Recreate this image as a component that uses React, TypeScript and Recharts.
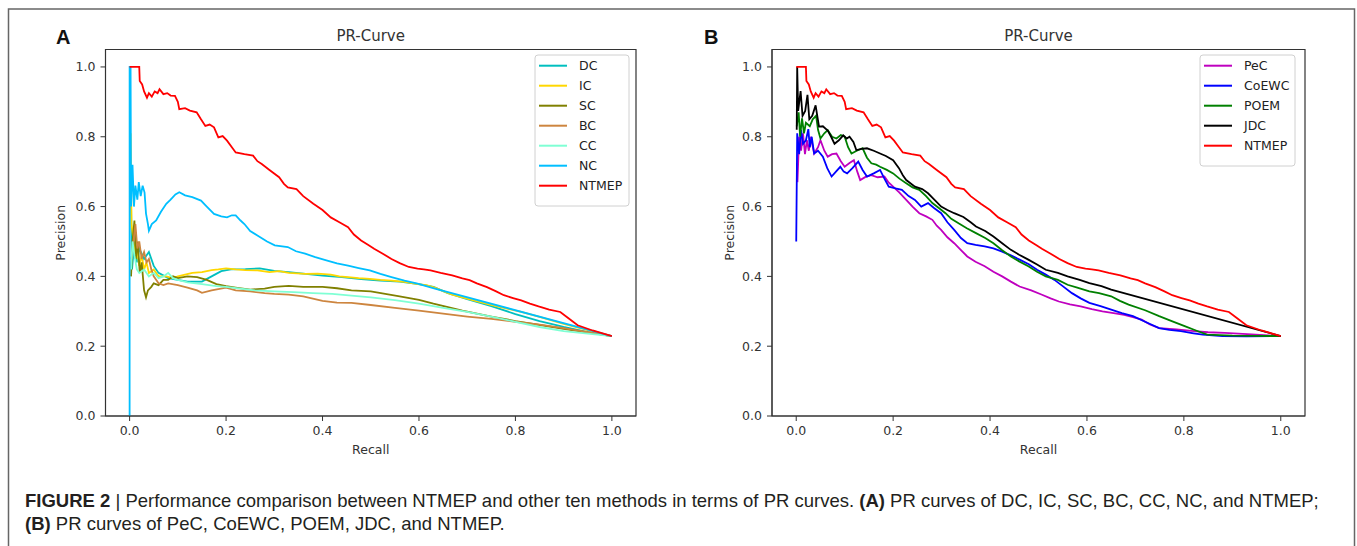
import { LineChart, Line, XAxis, YAxis, ReferenceArea } from 'recharts';

type Pt = [number, number];

const recallTicks = [0, 0.2, 0.4, 0.6, 0.8, 1.0];
const precisionTicks = [0, 0.2, 0.4, 0.6, 0.8, 1.0];

// [recall, precision]
const NTMEP: Pt[] = [
  [0, 1.0], [0.02, 1.0], [0.021, 0.96], [0.026, 0.95], [0.03, 0.93], [0.036, 0.912], [0.04, 0.925],
  [0.046, 0.915], [0.052, 0.93], [0.058, 0.925], [0.062, 0.936], [0.07, 0.922], [0.078, 0.925],
  [0.085, 0.918], [0.094, 0.917], [0.1, 0.9], [0.103, 0.879], [0.115, 0.882], [0.125, 0.875],
  [0.139, 0.87], [0.148, 0.85], [0.157, 0.831], [0.166, 0.835], [0.175, 0.827], [0.184, 0.798],
  [0.193, 0.802], [0.202, 0.789], [0.212, 0.77], [0.22, 0.755], [0.238, 0.75], [0.256, 0.746],
  [0.265, 0.73], [0.274, 0.722], [0.29, 0.705], [0.31, 0.684], [0.32, 0.665], [0.328, 0.655],
  [0.346, 0.65], [0.36, 0.63], [0.381, 0.608], [0.4, 0.59], [0.417, 0.569], [0.435, 0.555],
  [0.453, 0.541], [0.465, 0.52], [0.48, 0.503], [0.495, 0.49], [0.507, 0.479], [0.525, 0.465],
  [0.543, 0.45], [0.56, 0.438], [0.579, 0.427], [0.597, 0.422], [0.61, 0.42], [0.624, 0.417],
  [0.645, 0.41], [0.669, 0.403], [0.69, 0.394], [0.705, 0.389], [0.72, 0.38], [0.741, 0.369],
  [0.76, 0.357], [0.776, 0.346], [0.795, 0.338], [0.812, 0.331], [0.83, 0.322], [0.848, 0.314],
  [0.87, 0.305], [0.893, 0.298], [0.91, 0.28], [0.929, 0.26], [0.96, 0.245], [1.0, 0.229],
];

const NC: Pt[] = [
  [0, 0], [0, 1.0], [0.002, 1.0], [0.003, 0.6], [0.006, 0.72], [0.009, 0.6], [0.012, 0.66],
  [0.016, 0.62], [0.019, 0.67], [0.023, 0.63], [0.027, 0.66], [0.031, 0.64], [0.034, 0.58],
  [0.038, 0.55], [0.04, 0.531], [0.046, 0.55], [0.055, 0.56], [0.065, 0.585], [0.076, 0.608],
  [0.085, 0.62], [0.095, 0.635], [0.103, 0.641], [0.115, 0.632], [0.13, 0.627], [0.148, 0.617],
  [0.16, 0.6], [0.175, 0.579], [0.19, 0.572], [0.202, 0.569], [0.212, 0.575], [0.22, 0.575],
  [0.23, 0.56], [0.238, 0.55], [0.25, 0.53], [0.265, 0.517], [0.285, 0.5], [0.301, 0.489],
  [0.328, 0.484], [0.345, 0.472], [0.364, 0.465], [0.385, 0.455], [0.408, 0.446], [0.43, 0.437],
  [0.453, 0.431], [0.475, 0.424], [0.498, 0.417], [0.52, 0.407], [0.543, 0.398], [0.57, 0.388],
  [0.597, 0.379], [0.615, 0.372], [0.633, 0.365], [1.0, 0.229],
];

const IC: Pt[] = [
  [0.002, 0.81], [0.004, 0.55], [0.008, 0.5], [0.012, 0.45], [0.016, 0.47], [0.02, 0.43],
  [0.025, 0.46], [0.03, 0.42], [0.035, 0.44], [0.04, 0.41], [0.05, 0.42], [0.06, 0.4], [0.076, 0.4],
  [0.09, 0.395], [0.1, 0.4], [0.115, 0.405], [0.13, 0.41], [0.15, 0.412], [0.17, 0.418], [0.184, 0.42],
  [0.2, 0.423], [0.22, 0.42], [0.24, 0.418], [0.265, 0.417], [0.29, 0.412], [0.31, 0.415], [0.33, 0.41],
  [0.364, 0.407], [0.39, 0.408], [0.417, 0.405], [0.435, 0.4], [0.453, 0.398], [0.475, 0.395],
  [0.498, 0.393], [0.52, 0.39], [0.543, 0.388], [0.57, 0.384], [0.597, 0.378], [0.615, 0.375],
  [0.633, 0.368], [0.65, 0.358], [0.669, 0.348], [0.69, 0.34], [0.723, 0.328], [0.76, 0.315],
  [0.812, 0.298], [0.85, 0.284], [0.9, 0.264], [0.95, 0.246], [1.0, 0.229],
];

const DC: Pt[] = [
  [0.002, 0.7], [0.005, 0.42], [0.01, 0.5], [0.015, 0.44], [0.02, 0.48], [0.03, 0.45], [0.04, 0.47],
  [0.05, 0.43], [0.06, 0.41], [0.08, 0.395], [0.1, 0.39], [0.12, 0.385], [0.15, 0.385], [0.17, 0.4],
  [0.19, 0.415], [0.21, 0.42], [0.24, 0.421], [0.27, 0.423], [0.3, 0.416], [0.33, 0.412], [0.36, 0.408],
  [0.4, 0.402], [0.44, 0.398], [0.48, 0.392], [0.52, 0.388], [0.56, 0.385], [0.6, 0.378], [0.63, 0.37],
  [0.66, 0.352], [0.7, 0.335], [0.75, 0.315], [0.8, 0.292], [0.85, 0.272], [0.9, 0.255], [0.95, 0.24],
  [1.0, 0.229],
];

const SC: Pt[] = [
  [0.003, 0.4], [0.006, 0.5], [0.01, 0.56], [0.013, 0.45], [0.017, 0.5], [0.021, 0.41], [0.025, 0.44],
  [0.03, 0.36], [0.034, 0.34], [0.038, 0.36], [0.045, 0.37], [0.05, 0.38], [0.06, 0.375], [0.07, 0.39],
  [0.08, 0.39], [0.09, 0.4], [0.1, 0.395], [0.12, 0.4], [0.14, 0.398], [0.16, 0.39], [0.18, 0.378],
  [0.2, 0.372], [0.22, 0.368], [0.25, 0.362], [0.28, 0.365], [0.3, 0.37], [0.33, 0.373], [0.36, 0.37],
  [0.4, 0.37], [0.43, 0.366], [0.46, 0.36], [0.5, 0.357], [0.53, 0.35], [0.56, 0.343], [0.6, 0.333],
  [0.63, 0.322], [0.66, 0.312], [0.69, 0.302], [0.75, 0.285], [0.8, 0.272], [0.9, 0.25], [1.0, 0.229],
];

const BC: Pt[] = [
  [0.004, 0.45], [0.008, 0.5], [0.012, 0.55], [0.016, 0.48], [0.02, 0.5], [0.025, 0.45], [0.03, 0.47],
  [0.035, 0.44], [0.04, 0.45], [0.045, 0.42], [0.05, 0.4], [0.06, 0.38], [0.07, 0.375], [0.08, 0.38],
  [0.1, 0.375], [0.12, 0.368], [0.14, 0.36], [0.15, 0.353], [0.17, 0.36], [0.2, 0.368], [0.22, 0.36],
  [0.25, 0.357], [0.28, 0.352], [0.3, 0.35], [0.33, 0.348], [0.36, 0.343], [0.4, 0.33], [0.43, 0.325],
  [0.46, 0.324], [0.5, 0.318], [0.55, 0.31], [0.6, 0.302], [0.65, 0.293], [0.7, 0.285], [0.75, 0.278],
  [0.8, 0.27], [0.85, 0.262], [0.9, 0.252], [0.95, 0.24], [1.0, 0.229],
];

const CC: Pt[] = [
  [0.003, 0.42], [0.006, 0.5], [0.01, 0.46], [0.015, 0.42], [0.02, 0.41], [0.03, 0.42], [0.04, 0.4],
  [0.05, 0.41], [0.06, 0.395], [0.07, 0.4], [0.08, 0.41], [0.09, 0.395], [0.1, 0.39], [0.12, 0.383],
  [0.15, 0.378], [0.18, 0.372], [0.2, 0.37], [0.23, 0.365], [0.26, 0.36], [0.3, 0.357], [0.34, 0.355],
  [0.38, 0.352], [0.42, 0.35], [0.46, 0.345], [0.5, 0.34], [0.55, 0.332], [0.6, 0.322], [0.65, 0.31],
  [0.7, 0.298], [0.75, 0.285], [0.8, 0.27], [0.85, 0.255], [0.9, 0.243], [0.95, 0.236], [1.0, 0.229],
];

const JDC: Pt[] = [
  [0.001, 0.82], [0.002, 1.0], [0.004, 0.874], [0.009, 0.931], [0.013, 0.86], [0.0185, 0.874],
  [0.0232, 0.92], [0.027, 0.85], [0.033, 0.86], [0.04, 0.89], [0.047, 0.829], [0.055, 0.83],
  [0.065, 0.818], [0.072, 0.8], [0.079, 0.78], [0.088, 0.79], [0.097, 0.804], [0.104, 0.795],
  [0.11, 0.8], [0.118, 0.785], [0.124, 0.762], [0.135, 0.765], [0.146, 0.767], [0.16, 0.76],
  [0.173, 0.752], [0.185, 0.745], [0.2, 0.733], [0.212, 0.71], [0.22, 0.69], [0.227, 0.676],
  [0.245, 0.657], [0.26, 0.65], [0.272, 0.638], [0.285, 0.62], [0.299, 0.6], [0.312, 0.59],
  [0.326, 0.581], [0.345, 0.57], [0.36, 0.555], [0.371, 0.543], [0.39, 0.53], [0.407, 0.514],
  [0.425, 0.495], [0.443, 0.476], [0.46, 0.462], [0.479, 0.448], [0.497, 0.434], [0.515, 0.419],
  [0.54, 0.41], [0.56, 0.4], [0.585, 0.39], [0.605, 0.381], [0.63, 0.372], [0.65, 0.362], [1.0, 0.229],
];

const POEM: Pt[] = [
  [0.001, 0.83], [0.005, 0.87], [0.008, 0.8], [0.012, 0.853], [0.016, 0.81], [0.02, 0.84], [0.028, 0.83],
  [0.034, 0.85], [0.041, 0.86], [0.045, 0.82], [0.05, 0.795], [0.058, 0.81], [0.065, 0.819], [0.074, 0.8],
  [0.083, 0.795], [0.092, 0.805], [0.1, 0.8], [0.107, 0.77], [0.114, 0.752], [0.125, 0.76], [0.137, 0.767],
  [0.146, 0.74], [0.155, 0.724], [0.165, 0.72], [0.173, 0.714], [0.187, 0.705], [0.2, 0.695], [0.213, 0.68],
  [0.227, 0.667], [0.24, 0.655], [0.254, 0.648], [0.268, 0.63], [0.281, 0.61], [0.295, 0.595],
  [0.308, 0.581], [0.32, 0.565], [0.335, 0.552], [0.352, 0.538], [0.371, 0.524], [0.39, 0.51],
  [0.407, 0.495], [0.425, 0.475], [0.443, 0.457], [0.46, 0.443], [0.479, 0.429], [0.497, 0.413],
  [0.515, 0.4], [0.54, 0.39], [0.56, 0.376], [0.58, 0.368], [0.605, 0.357], [0.625, 0.352], [0.65, 0.343],
  [0.668, 0.33], [0.686, 0.319], [0.72, 0.303], [0.749, 0.286], [0.775, 0.272], [0.803, 0.257],
  [0.825, 0.245], [0.848, 0.233], [0.9, 0.23], [1.0, 0.229],
];

const CoEWC: Pt[] = [
  [0, 0.5], [0.002, 0.81], [0.006, 0.75], [0.01, 0.82], [0.014, 0.78], [0.02, 0.79], [0.025, 0.822],
  [0.028, 0.77], [0.032, 0.8], [0.037, 0.752], [0.045, 0.76], [0.055, 0.743], [0.064, 0.71], [0.073, 0.686],
  [0.082, 0.7], [0.091, 0.714], [0.098, 0.7], [0.105, 0.695], [0.116, 0.71], [0.128, 0.729], [0.137, 0.705],
  [0.146, 0.686], [0.16, 0.695], [0.173, 0.705], [0.182, 0.68], [0.191, 0.657], [0.205, 0.652],
  [0.218, 0.648], [0.232, 0.63], [0.245, 0.619], [0.258, 0.6], [0.272, 0.61], [0.285, 0.595],
  [0.299, 0.581], [0.312, 0.555], [0.326, 0.533], [0.34, 0.51], [0.353, 0.495], [0.37, 0.49],
  [0.389, 0.486], [0.407, 0.48], [0.425, 0.471], [0.443, 0.46], [0.461, 0.448], [0.48, 0.435],
  [0.497, 0.419], [0.515, 0.405], [0.533, 0.39], [0.55, 0.372], [0.569, 0.352], [0.587, 0.337],
  [0.605, 0.324], [0.628, 0.315], [0.65, 0.305], [0.672, 0.295], [0.695, 0.286], [0.72, 0.27],
  [0.749, 0.252], [0.77, 0.247], [0.794, 0.243], [0.82, 0.237], [0.839, 0.233], [0.88, 0.229],
  [0.929, 0.228], [1.0, 0.229],
];

const PeC: Pt[] = [
  [0.0025, 0.67], [0.006, 0.8], [0.01, 0.76], [0.014, 0.81], [0.018, 0.75], [0.022, 0.79], [0.026, 0.76],
  [0.03, 0.8], [0.037, 0.752], [0.045, 0.77], [0.05, 0.79], [0.058, 0.76], [0.065, 0.743], [0.074, 0.75],
  [0.083, 0.752], [0.092, 0.73], [0.1, 0.714], [0.11, 0.725], [0.119, 0.733], [0.126, 0.7], [0.132, 0.676],
  [0.143, 0.685], [0.155, 0.69], [0.168, 0.684], [0.182, 0.686], [0.19, 0.67], [0.2, 0.657], [0.213, 0.64],
  [0.227, 0.619], [0.24, 0.6], [0.254, 0.581], [0.268, 0.572], [0.281, 0.562], [0.29, 0.545],
  [0.299, 0.533], [0.312, 0.512], [0.326, 0.495], [0.34, 0.475], [0.353, 0.457], [0.37, 0.442],
  [0.389, 0.429], [0.407, 0.413], [0.425, 0.4], [0.443, 0.385], [0.461, 0.371], [0.485, 0.36],
  [0.506, 0.348], [0.525, 0.337], [0.542, 0.328], [0.565, 0.32], [0.587, 0.314], [0.61, 0.306],
  [0.632, 0.3], [0.655, 0.295], [0.677, 0.29], [0.695, 0.283], [0.713, 0.276], [0.73, 0.262],
  [0.749, 0.252], [0.785, 0.248], [0.821, 0.243], [0.85, 0.24], [0.884, 0.238], [0.94, 0.234], [1.0, 0.229],
];

interface Series {
  name: string;
  color: string;
  points: Pt[];
}

const seriesA: Series[] = [
  { name: 'DC', color: '#00bfbf', points: DC },
  { name: 'IC', color: '#ffd700', points: IC },
  { name: 'SC', color: '#808000', points: SC },
  { name: 'BC', color: '#cd853f', points: BC },
  { name: 'CC', color: '#7fffd4', points: CC },
  { name: 'NC', color: '#00bfff', points: NC },
  { name: 'NTMEP', color: '#ff0000', points: NTMEP },
];

const seriesB: Series[] = [
  { name: 'PeC', color: '#bf00bf', points: PeC },
  { name: 'CoEWC', color: '#0000ff', points: CoEWC },
  { name: 'POEM', color: '#008000', points: POEM },
  { name: 'JDC', color: '#000000', points: JDC },
  { name: 'NTMEP', color: '#ff0000', points: NTMEP },
];

const FONT = '"DejaVu Sans", sans-serif';
const AXIS = '#333';

function toRows(points: Pt[]) {
  return points.map(([r, p]) => ({ r, p }));
}

interface PanelProps {
  series: Series[];
  width: number;
  height: number;
  margin: { top: number; right: number; bottom: number; left: number };
  labelOffset: number;
}

function Panel({ series, width, height, margin, labelOffset }: PanelProps) {
  const tickStyle = { fill: AXIS, fontSize: 12.5, fontFamily: FONT };
  return (
    <LineChart width={width} height={height} margin={margin}>
      <XAxis
        dataKey="r"
        type="number"
        domain={[-0.05, 1.05]}
        allowDataOverflow
        ticks={recallTicks}
        tickFormatter={(v: number) => v.toFixed(1)}
        tick={tickStyle}
        tickSize={5}
        tickMargin={5}
        stroke={AXIS}
        height={40}
        label={{ value: 'Recall', position: 'insideBottom', offset: 2, fill: AXIS, fontSize: 12.5, fontFamily: FONT }}
      />
      <YAxis
        type="number"
        domain={[0, 1.05]}
        allowDataOverflow
        ticks={precisionTicks}
        tickFormatter={(v: number) => v.toFixed(1)}
        tick={tickStyle}
        tickSize={5}
        tickMargin={5}
        stroke={AXIS}
        width={55}
        label={{
          value: 'Precision',
          angle: -90,
          position: 'insideLeft',
          offset: labelOffset,
          fill: AXIS,
          fontSize: 12.5,
          fontFamily: FONT,
          style: { textAnchor: 'middle' },
        }}
      />
      <ReferenceArea x1={-0.05} x2={1.05} y1={0} y2={1.05} fill="none" stroke={AXIS} strokeWidth={1.2} />
      {series.map((s) => (
        <Line
          key={s.name}
          data={toRows(s.points)}
          dataKey="p"
          name={s.name}
          type="linear"
          stroke={s.color}
          strokeWidth={1.8}
          dot={false}
          activeDot={false}
          isAnimationActive={false}
        />
      ))}
    </LineChart>
  );
}

function LegendBox({ series, x, y, w }: { series: Series[]; x: number; y: number; w: number }) {
  const h = 17 + series.length * 20 - 6;
  return (
    <g>
      <rect x={x} y={y} width={w} height={h} rx={3} fill="#fff" fillOpacity={0.85} stroke="#d0d0d0" />
      {series.map((s, i) => {
        const cy = y + 10.7 + i * 20;
        return (
          <g key={s.name}>
            <line x1={x + 4} x2={x + 32} y1={cy} y2={cy} stroke={s.color} strokeWidth={2} />
            <text x={x + 44} y={cy + 4.5} fontSize={12.5} fontFamily={FONT} fill="#222">
              {s.name}
            </text>
          </g>
        );
      })}
    </g>
  );
}

export default function App() {
  const capStyle = { fontFamily: '"Liberation Sans", Arial, sans-serif', fontSize: 18.5, fill: '#231f20' };
  return (
    <div style={{ position: 'absolute', left: 0, top: 0, width: 1357, height: 546, background: '#fff', overflow: 'hidden' }}>
      <div style={{ position: 'absolute', left: 0, top: 0 }}>
        <Panel
          series={seriesA}
          width={680}
          height={470}
          margin={{ top: 49.5, right: 44, bottom: 14, left: 50.5 }}
          labelOffset={10}
        />
      </div>
      <div style={{ position: 'absolute', left: 680, top: 0 }}>
        <Panel
          series={seriesB}
          width={677}
          height={470}
          margin={{ top: 49.5, right: 52, bottom: 14, left: 37 }}
          labelOffset={13}
        />
      </div>
      <svg width={1357} height={546} style={{ position: 'absolute', left: 0, top: 0, pointerEvents: 'none' }}>
        <rect x={8.5} y={9} width={1346} height={600} fill="none" stroke="#666" strokeWidth={1.5} />
        <text x={56} y={44} fontFamily='"Liberation Sans", Arial, sans-serif' fontWeight="bold" fontSize={20} fill="#111">
          A
        </text>
        <text x={704} y={44} fontFamily='"Liberation Sans", Arial, sans-serif' fontWeight="bold" fontSize={20} fill="#111">
          B
        </text>
        <text x={370.7} y={40.5} textAnchor="middle" fontFamily={FONT} fontSize={15} fill="#333">
          PR-Curve
        </text>
        <text x={1038.5} y={40.5} textAnchor="middle" fontFamily={FONT} fontSize={15} fill="#333">
          PR-Curve
        </text>
        <LegendBox series={seriesA} x={535} y={55} w={94} />
        <LegendBox series={seriesB} x={1200} y={55} w={95} />
        <text x={25} y={507} {...capStyle}>
          <tspan fontWeight="bold">FIGURE 2</tspan>
          <tspan>{' | Performance comparison between NTMEP and other ten methods in terms of PR curves. '}</tspan>
          <tspan fontWeight="bold">(A)</tspan>
          <tspan>{' PR curves of DC, IC, SC, BC, CC, NC, and NTMEP;'}</tspan>
        </text>
        <text x={25} y={530} {...capStyle}>
          <tspan fontWeight="bold">(B)</tspan>
          <tspan>{' PR curves of PeC, CoEWC, POEM, JDC, and NTMEP.'}</tspan>
        </text>
      </svg>
    </div>
  );
}
